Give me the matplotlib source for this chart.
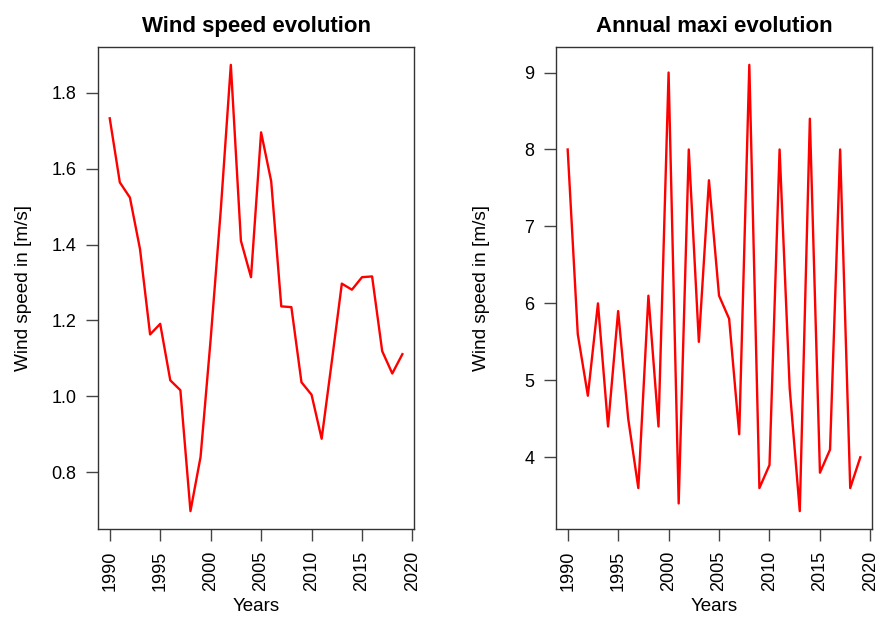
import matplotlib
matplotlib.use("Agg")
from matplotlib import pyplot as plt

years = list(range(1990, 2020))
mean_speed = [1.733, 1.564, 1.524, 1.388, 1.163, 1.191, 1.042, 1.016, 0.697, 0.840,
              1.15, 1.49, 1.874, 1.41, 1.314, 1.696, 1.567, 1.237, 1.235, 1.037,
              1.004, 0.888, 1.09, 1.297, 1.281, 1.314, 1.316, 1.119, 1.060, 1.111]
annual_max = [8.0, 5.6, 4.8, 6.0, 4.4, 5.9, 4.5, 3.6, 6.1, 4.4,
              9.0, 3.4, 8.0, 5.5, 7.6, 6.1, 5.8, 4.3, 9.1, 3.6,
              3.9, 8.0, 4.9, 3.3, 8.4, 3.8, 4.1, 8.0, 3.6, 4.0]
year_ticks = [1990, 1995, 2000, 2005, 2010, 2015, 2020]

plt.rcParams["font.family"] = ["Liberation Sans", "DejaVu Sans"]

fig = plt.figure(figsize=(8.88, 6.2), dpi=100)


def panel(rect, values, title, ypad):
    ax = fig.add_axes(rect)
    ax.plot(years, values, color="red", linewidth=1.7)
    ax.margins(x=0.04, y=0.04)
    ax.set_xticks(year_ticks)
    for lab in ax.get_xticklabels():
        lab.set_rotation(90)
    ax.tick_params(axis="both", direction="out", length=8.5, width=1.0,
                   color="#444444", labelsize=13, pad=7)
    for sp in ax.spines.values():
        sp.set_color("#333333")
        sp.set_linewidth(1.0)
    ax.set_title(title, fontsize=16, fontweight="bold", pad=11)
    ax.set_xlabel("Years", fontsize=13.5, labelpad=5)
    ax.set_ylabel("Wind speed in [m/s]", fontsize=13.7, labelpad=ypad)
    return ax


ax1 = panel([0.1104, 0.1468, 0.3559, 0.7774], mean_speed, "Wind speed evolution", 14)
ax1.set_yticks([0.8, 1.0, 1.2, 1.4, 1.6, 1.8])
ax2 = panel([0.6261, 0.1468, 0.3559, 0.7774], annual_max, "Annual maxi evolution", 25)
ax2.set_yticks([4, 5, 6, 7, 8, 9])

fig.savefig("out.png", dpi=100)
